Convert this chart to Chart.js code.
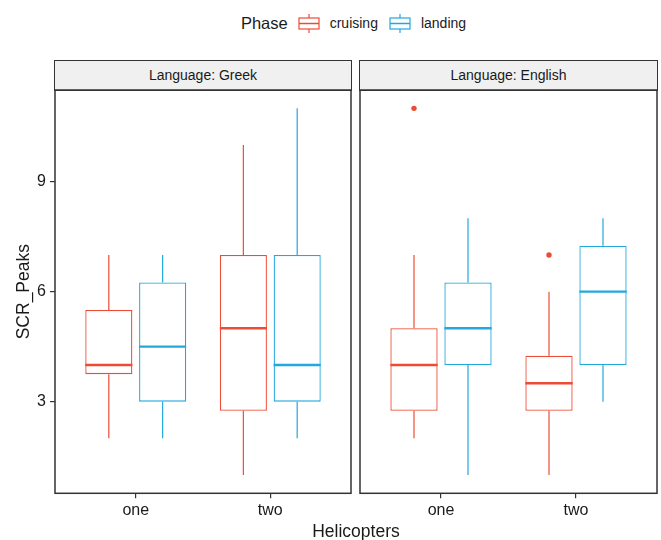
<!DOCTYPE html>
<html>
<head>
<meta charset="utf-8">
<script src="https://cdn.jsdelivr.net/npm/chart.js@4.4.1/dist/chart.umd.min.js"></script>
<style>
  html, body { margin: 0; padding: 0; background: #fff; }
  body { width: 661px; height: 540px; position: relative; overflow: hidden;
         font-family: "Liberation Sans", Arial, sans-serif; color: #1a1a1a; }
  .abs { position: absolute; }
  .strip { box-sizing: border-box; height: 31px; border: 1.5px solid #333; background: #f0f0f0;
           font-size: 14px; text-align: center; line-height: 28px; }
  #legend { left: 58px; width: 602px; top: 11px; height: 24px; display: flex;
            justify-content: center; align-items: center; }
  #legend .title { font-size: 16.5px; margin-right: 10px; }
  #legend .lab { font-size: 14px; margin: 0 11px 0 10px; }
  #xtitle { left: 55px; width: 602px; top: 521px; font-size: 17.5px; text-align: center; }
</style>
</head>
<body>
<div id="legend" class="abs"></div>
<div id="strip0" class="abs strip"></div>
<div id="strip1" class="abs strip"></div>
<canvas id="panel0" class="abs" width="352" height="455" style="left:0;top:85px"></canvas>
<canvas id="panel1" class="abs" width="305" height="455" style="left:356px;top:85px"></canvas>
<div id="xtitle" class="abs">Helicopters</div>
<script>
// categories and groups
const categories = ['one', 'two'];
const phases = ['cruising', 'landing'];
const languages = ['Greek', 'English'];

// box summaries per category: [whisker low, q1, median, q3, whisker high]
const greekCruising = [[2, 3.75, 4, 5.5, 7], [1, 2.75, 5, 7, 10]];
const greekLanding = [[2, 3, 4.5, 6.25, 7], [2, 3, 4, 7, 11]];
const englishCruising = [[2, 2.75, 4, 5, 7], [1, 2.75, 3.5, 4.25, 6]];
const englishLanding = [[1, 4, 5, 6.25, 8], [3, 4, 6, 7.25, 8]];

// outliers per category
const greekCruisingOut = [[], []];
const greekLandingOut = [[], []];
const englishCruisingOut = [[11], [7]];
const englishLandingOut = [[], []];

const yTicks = [3, 6, 9];
const yMin = 0.5, yMax = 11.5;

const phaseColors = ['#EE4B35', '#22A8DD'];
const FONT = '"Liberation Sans", Arial, sans-serif';
const DODGE = 0.4;
const HALF_BOX = DODGE * 0.875 / 2;

// legend
const legend = document.getElementById('legend');
legend.innerHTML = '<span class="title">Phase</span>' + phases.map((p, i) => {
    const c = phaseColors[i];
    return '<svg width="22" height="22" style="display:block">' +
        '<line x1="11" y1="2" x2="11" y2="6" stroke="' + c + '" stroke-width="1.2"/>' +
        '<rect x="1" y="6" width="20" height="11" fill="#fff" stroke="' + c + '" stroke-width="1.2"/>' +
        '<line x1="1" y1="11.5" x2="21" y2="11.5" stroke="' + c + '" stroke-width="1.5"/>' +
        '<line x1="11" y1="17" x2="11" y2="21" stroke="' + c + '" stroke-width="1.2"/>' +
        '</svg><span class="lab">' + p + '</span>';
}).join('');

// strips
const stripBoxes = [[54, 298], [359, 299]];
languages.forEach((l, i) => {
    const s = document.getElementById('strip' + i);
    s.textContent = 'Language: ' + l;
    s.style.left = stripBoxes[i][0] + 'px';
    s.style.width = stripBoxes[i][1] + 'px';
    s.style.top = '59.5px';
});

const panelBorder = {
    id: 'panelBorder',
    afterDraw(chart) {
        const a = chart.chartArea;
        const ctx = chart.ctx;
        ctx.save();
        ctx.strokeStyle = '#333';
        ctx.lineWidth = 1.5;
        ctx.strokeRect(a.left, a.top, a.right - a.left, a.bottom - a.top);
        ctx.restore();
    }
};

function phaseDatasets(stats, outliers, p) {
    const color = phaseColors[p];
    const xs = categories.map((c, i) => i + 1 + (p - 0.5) * DODGE);
    return [
        {
            type: 'bar', label: phases[p],
            data: stats.map((s, i) => ({x: xs[i], y: [s[1], s[3]]})),
            backgroundColor: '#fff', borderColor: color, borderWidth: 1.3,
            borderSkipped: false, grouped: false,
            categoryPercentage: 1, barPercentage: 0.875, order: 3
        },
        {
            type: 'line',
            data: stats.flatMap((s, i) => [
                {x: xs[i], y: s[0]}, {x: xs[i], y: s[1]}, {x: xs[i], y: null},
                {x: xs[i], y: s[3]}, {x: xs[i], y: s[4]}, {x: xs[i], y: null}
            ]),
            borderColor: color, borderWidth: 1.2, pointRadius: 0, spanGaps: false, order: 4
        },
        {
            type: 'line',
            data: stats.flatMap((s, i) => [
                {x: xs[i] - HALF_BOX, y: s[2]}, {x: xs[i] + HALF_BOX, y: s[2]}, {x: xs[i], y: null}
            ]),
            borderColor: color, borderWidth: 2.4, pointRadius: 0, spanGaps: false, order: 1
        },
        {
            type: 'scatter',
            data: outliers.flatMap((o, i) => o.map(v => ({x: xs[i], y: v}))),
            backgroundColor: color, borderWidth: 0, pointRadius: 2.7, order: 0
        }
    ];
}

function makePanel(id, series, isLeft) {
    const datasets = [];
    series.forEach((s, p) => datasets.push(...phaseDatasets(s[0], s[1], p)));
    const tickGrid = {
        display: true, drawOnChartArea: false, drawTicks: true, tickLength: 5,
        color: '#333', lineWidth: 1.2, offset: false
    };
    return new Chart(document.getElementById(id).getContext('2d'), {
        type: 'bar',
        data: { datasets: datasets },
        options: {
            animation: false,
            responsive: false,
            events: [],
            layout: { padding: { top: 5, bottom: 0, left: isLeft ? 0 : 4, right: isLeft ? 1 : 4 } },
            plugins: { legend: { display: false }, tooltip: { enabled: false } },
            scales: {
                x: {
                    type: 'linear', offset: false,
                    min: 1 - 0.6, max: categories.length + 0.6,
                    afterBuildTicks: s => { s.ticks = categories.map((c, i) => ({value: i + 1})); },
                    ticks: {
                        callback: v => categories[v - 1],
                        color: '#1a1a1a', font: { family: FONT, size: 16 },
                        padding: 3, maxRotation: 0, autoSkip: false
                    },
                    grid: tickGrid,
                    border: { display: false },
                    afterFit: s => { s.height = 46.7; s.paddingLeft = 0; s.paddingRight = 0; }
                },
                y: {
                    type: 'linear', display: isLeft,
                    min: yMin, max: yMax,
                    afterBuildTicks: s => { s.ticks = yTicks.map(v => ({value: v})); },
                    ticks: { color: '#1a1a1a', font: { family: FONT, size: 16 }, padding: 4 },
                    grid: tickGrid,
                    border: { display: false },
                    title: {
                        display: true, text: 'SCR_Peaks', color: '#1a1a1a',
                        font: { family: FONT, size: 17.5 }, padding: { top: 14, bottom: 0 }
                    },
                    afterFit: s => { s.width = isLeft ? 55 : 0; s.paddingTop = 0; s.paddingBottom = 0; }
                }
            }
        },
        plugins: [panelBorder]
    });
}

makePanel('panel0', [[greekCruising, greekCruisingOut], [greekLanding, greekLandingOut]], true);
makePanel('panel1', [[englishCruising, englishCruisingOut], [englishLanding, englishLandingOut]], false);
</script>
</body>
</html>
